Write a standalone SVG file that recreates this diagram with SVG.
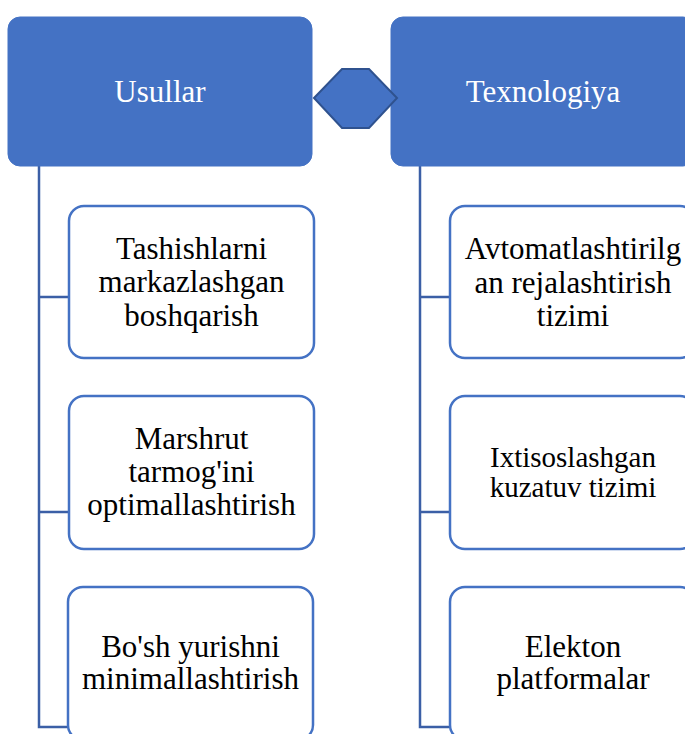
<svg xmlns="http://www.w3.org/2000/svg" width="685" height="734" viewBox="0 0 685 734">
<style>
.hdr{fill:#4472C4;stroke:#4472C4;stroke-width:1}
.child{fill:#FFFFFF;stroke:#4472C4;stroke-width:2.5}
.conn{fill:none;stroke:#3B5FA6;stroke-width:2.5}
.t{font-family:"Liberation Serif","Times New Roman",serif;font-size:31px;fill:#000;text-anchor:middle}
.th{font-family:"Liberation Serif","Times New Roman",serif;font-size:31px;fill:#FFFFFF;text-anchor:middle}
.hex{fill:#4472C4;stroke:#2F528F;stroke-width:2}
</style>
<rect width="685" height="734" fill="#FFFFFF"/>
<g id="connectors">
<path class="conn" d="M39,166 V727 H68 M39,297 H69 M39,512 H69"/>
<path class="conn" d="M420,166 V727 H450 M420,297 H450 M420,512 H450"/>
</g>
<g id="usullar">
<rect class="hdr" x="8" y="17" width="304" height="149" rx="12"/>
<text class="th" x="160" y="102">Usullar</text>
</g>
<g id="texnologiya">
<rect class="hdr" x="391" y="17" width="304" height="149" rx="12"/>
<text class="th" x="543" y="102">Texnologiya</text>
</g>
<g id="hexagon">
<polygon class="hex" points="314,98 342,69 369,69 397,98 369,128 342,128"/>
</g>
<g id="l1">
<rect class="child" x="69" y="206" width="245" height="152" rx="15"/>
<text class="t" x="191.5" y="259">Tashishlarni</text>
<text class="t" x="191.5" y="292">markazlashgan</text>
<text class="t" x="191.5" y="326">boshqarish</text>
</g>
<g id="l2">
<rect class="child" x="69" y="396" width="245" height="153" rx="15"/>
<text class="t" x="191.5" y="449">Marshrut</text>
<text class="t" x="191.5" y="482">tarmog'ini</text>
<text class="t" x="191.5" y="515">optimallashtirish</text>
</g>
<g id="l3">
<rect class="child" x="68" y="587" width="245" height="153" rx="15"/>
<text class="t" x="190.5" y="657">Bo'sh yurishni</text>
<text class="t" x="190.5" y="689">minimallashtirish</text>
</g>
<g id="r1">
<rect class="child" x="450" y="206" width="245" height="152" rx="15"/>
<text class="t" x="573" y="259">Avtomatlashtirilg</text>
<text class="t" x="573" y="293">an rejalashtirish</text>
<text class="t" x="573" y="326">tizimi</text>
</g>
<g id="r2">
<rect class="child" x="450" y="396" width="245" height="153" rx="15"/>
<text class="t" x="573" y="467" style="font-size:29px">Ixtisoslashgan</text>
<text class="t" x="573" y="497" style="font-size:29px">kuzatuv tizimi</text>
</g>
<g id="r3">
<rect class="child" x="450" y="587" width="245" height="153" rx="15"/>
<text class="t" x="573" y="657">Elekton</text>
<text class="t" x="573" y="689">platformalar</text>
</g>
</svg>
